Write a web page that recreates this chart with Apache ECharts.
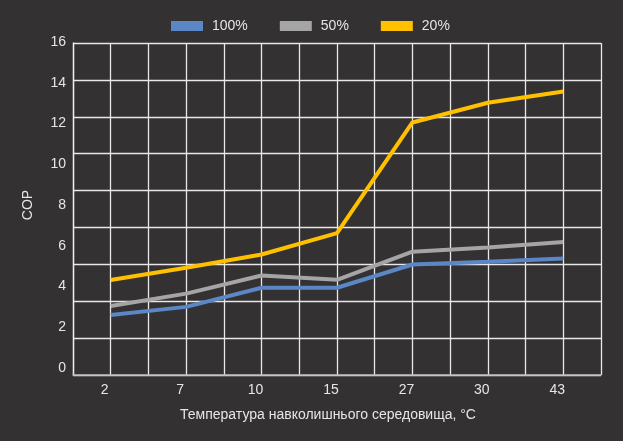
<!DOCTYPE html>
<html>
<head>
<meta charset="utf-8">
<script src="https://cdn.jsdelivr.net/npm/echarts@6/dist/echarts.min.js"></script>
<style>
html,body{margin:0;padding:0;background:#333132;}
#c{width:623px;height:441px;}
</style>
</head>
<body>
<div id="c"></div>
<script>
const categories = ['2', '7', '10', '15', '27', '30', '43'];
const seriesNames = ['100%', '50%', '20%'];
const load100 = [2.6, 3.0, 3.94, 3.94, 5.08, 5.21, 5.37];
const load50 = [3.04, 3.65, 4.54, 4.33, 5.71, 5.91, 6.18];
const load20 = [4.32, 4.92, 5.57, 6.62, 12.05, 13.02, 13.57];
const yTicks = {min: 0, max: 16, interval: 2};
const gridCells = 14;
const gridRows = 9;

const font = 'Liberation Sans, Arial, sans-serif';
const chart = echarts.init(document.getElementById('c'));
chart.setOption({
  backgroundColor: '#333132',
  textStyle: {fontFamily: font},
  legend: {
    data: seriesNames,
    left: 166, top: 14,
    icon: 'rect',
    itemWidth: 32, itemHeight: 10, itemGap: 32,
    textStyle: {color: '#e6e6e6', fontSize: 14, fontFamily: font, padding: [0, 0, 0, 4]}
  },
  grid: [
    {left: 73, right: 22, top: 42, bottom: 73},
    {left: 73, right: 22, top: 43, bottom: 66}
  ],
  xAxis: [
    {
      type: 'category', gridIndex: 0, data: categories, boundaryGap: true,
      axisLine: {show: false}, axisTick: {show: false}, splitLine: {show: false},
      axisLabel: {color: '#e6e6e6', fontSize: 14, margin: 15, padding: [0, 12, 0, 0]},
      name: 'Температура навколишнього середовища, °C',
      nameLocation: 'middle', nameGap: 40,
      nameTextStyle: {color: '#e6e6e6', fontSize: 14, padding: [0, 18, 0, 0]}
    },
    {
      type: 'category', gridIndex: 1, data: Array.from({length: gridCells}, (_, i) => 'c' + i),
      boundaryGap: true,
      axisLine: {show: true, lineStyle: {color: '#b8b8b8', width: 1.5}},
      axisTick: {show: false}, axisLabel: {show: false},
      splitLine: {show: true, interval: 0, lineStyle: {color: '#e8e8e8', width: 1.3}}
    }
  ],
  yAxis: [
    {
      type: 'value', gridIndex: 0, min: yTicks.min, max: yTicks.max, interval: yTicks.interval,
      axisLine: {show: false}, axisTick: {show: false}, splitLine: {show: false},
      axisLabel: {color: '#e6e6e6', fontSize: 14, margin: 7},
      name: 'COP', nameLocation: 'middle', nameGap: 38, nameRotate: 90,
      nameTextStyle: {color: '#e6e6e6', fontSize: 14}
    },
    {
      type: 'value', gridIndex: 1, min: 0, max: gridRows, interval: 1,
      axisLine: {show: true, lineStyle: {color: '#eeeeee', width: 1.3}},
      axisTick: {show: false}, axisLabel: {show: false},
      splitLine: {show: true, lineStyle: {color: '#e8e8e8', width: 1.3}}
    }
  ],
  series: [
    {name: seriesNames[0], type: 'line', data: load100, showSymbol: false, symbol: 'none',
     lineStyle: {color: '#5b87c6', width: 4}, itemStyle: {color: '#5b87c6'}, z: 5},
    {name: seriesNames[1], type: 'line', data: load50, showSymbol: false, symbol: 'none',
     lineStyle: {color: '#a5a5a5', width: 4}, itemStyle: {color: '#a5a5a5'}, z: 5},
    {name: seriesNames[2], type: 'line', data: load20, showSymbol: false, symbol: 'none',
     lineStyle: {color: '#ffc000', width: 4}, itemStyle: {color: '#ffc000'}, z: 5}
  ]
});
</script>
</body>
</html>
